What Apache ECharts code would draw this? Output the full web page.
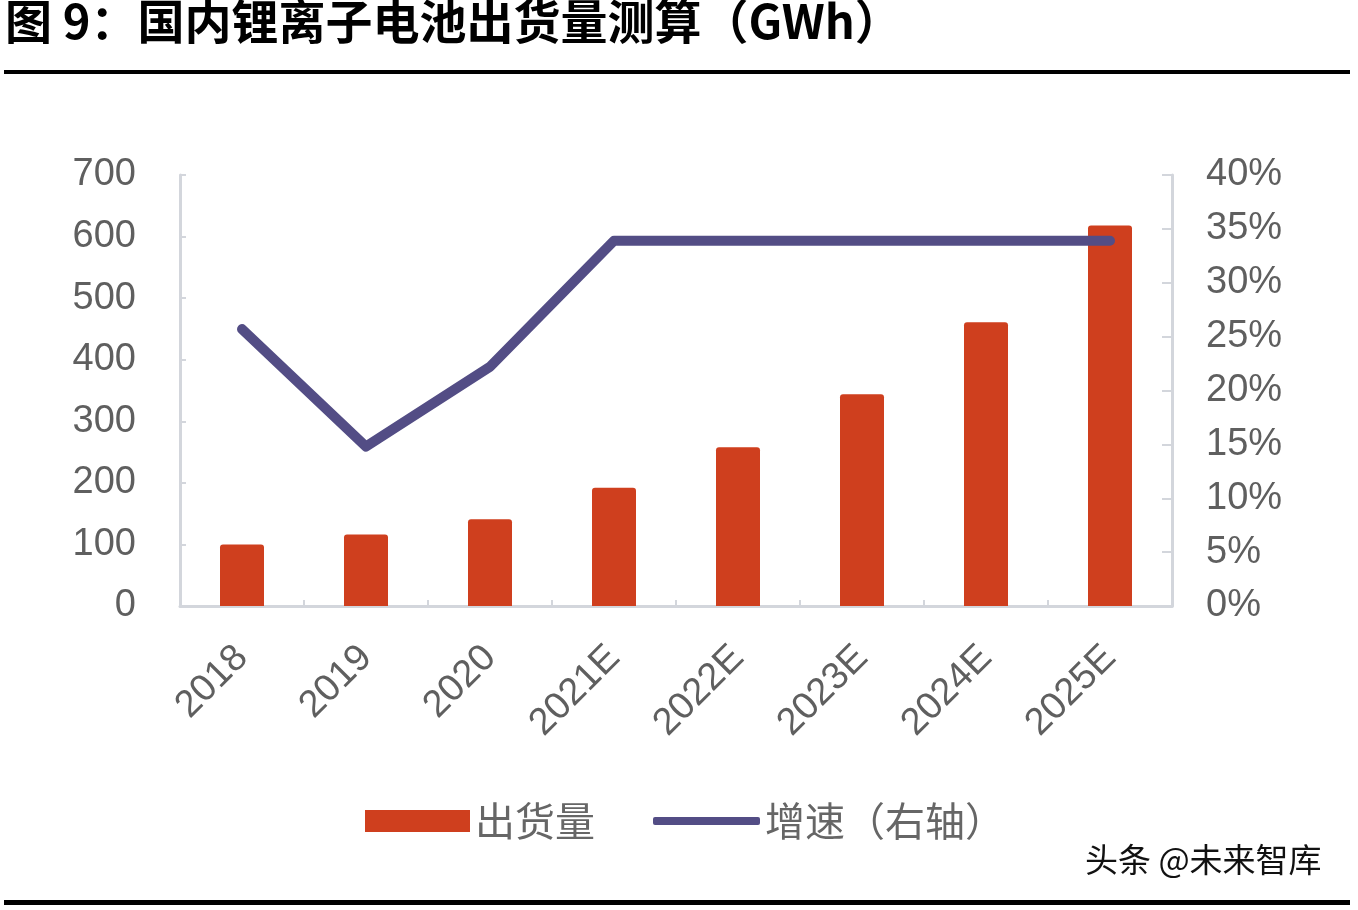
<!DOCTYPE html>
<html><head><meta charset="utf-8">
<script src="https://cdn.jsdelivr.net/npm/echarts@6/dist/echarts.min.js"></script>
<style>html,body{margin:0;padding:0;background:#fff}#c{width:1358px;height:910px}</style>
</head><body><div id="c"></div>
<script>
const categories = ['2018','2019','2020','2021E','2022E','2023E','2024E','2025E'];
const shipments = [100, 116, 141, 192, 258, 344, 461, 618];
const growth = [25.7, 14.8, 22.2, 33.9, 33.9, 33.9, 33.9, 33.9];
const leftTicks = [0,100,200,300,400,500,600,700];
const rightTicks = [0,5,10,15,20,25,30,35,40];

const chart = echarts.init(document.getElementById('c'));
const axisColor = '#d3d6dc';
const labelColor = '#5f5f5f';
const legendText = {fontFamily: 'Noto Sans CJK SC', fontSize: 40, color: '#666'};
chart.setOption({
  animation: false,
  backgroundColor: '#ffffff',
  grid: {left: 180, right: 186, top: 175, bottom: 304},
  legend: [
    {left: 360, top: 796, itemWidth: 105, itemHeight: 22, itemGap: 20,
     textStyle: legendText, data: [{name: '出货量', icon: 'rect'}]},
    {left: 648, top: 796, itemWidth: 107, itemHeight: 8, itemGap: 20,
     textStyle: legendText, data: [{name: '增速（右轴）', icon: 'roundRect'}]}
  ],
  graphic: [
    {type: 'text', left: 5, top: -2, style: {text: '图 9：国内锂离子电池出货量测算（GWh）', font: 'bold 47px "Noto Sans CJK SC"', fill: '#000'}},
    {type: 'rect', shape: {x: 4, y: 70, width: 1346, height: 4}, style: {fill: '#000'}},
    {type: 'rect', shape: {x: 4, y: 900, width: 1346, height: 5}, style: {fill: '#000'}},
    {type: 'text', left: 1085, top: 843, style: {text: '头条 @未来智库', font: '33px "Noto Sans CJK SC"', fill: '#111'}}
  ],
  xAxis: {
    type: 'category', data: categories,
    axisLine: {lineStyle: {color: axisColor, width: 3}},
    axisTick: {show: true, inside: true, length: 6, lineStyle: {color: axisColor, width: 2}},
    axisLabel: {rotate: 45, fontFamily: 'Liberation Sans', fontSize: 38, color: labelColor, margin: 46}
  },
  yAxis: [
    {type: 'value', min: 0, max: 700, interval: 100,
     axisLine: {show: true, lineStyle: {color: axisColor, width: 3}},
     axisTick: {show: true, inside: true, length: 6, lineStyle: {color: axisColor, width: 2}},
     splitLine: {show: false},
     axisLabel: {fontFamily: 'Liberation Sans', fontSize: 38, color: labelColor, margin: 44,
       formatter: v => leftTicks.includes(v) ? String(v) : ''}},
    {type: 'value', min: 0, max: 40, interval: 5,
     axisLine: {show: true, lineStyle: {color: axisColor, width: 3}},
     axisTick: {show: true, inside: true, length: 10, lineStyle: {color: axisColor, width: 2}},
     splitLine: {show: false},
     axisLabel: {fontFamily: 'Liberation Sans', fontSize: 38, color: labelColor, margin: 34,
       formatter: v => rightTicks.includes(v) ? v + '%' : ''}}
  ],
  series: [
    {name: '出货量', type: 'bar', data: shipments, barWidth: 44,
     itemStyle: {color: '#cf3f1e', borderRadius: [3,3,0,0]}},
    {name: '增速（右轴）', type: 'line', yAxisIndex: 1, data: growth,
     symbol: 'none', lineStyle: {color: '#534d85', width: 10, join: 'round', cap: 'round'},
     itemStyle: {color: '#534d85'}}
  ]
});
</script></body></html>
